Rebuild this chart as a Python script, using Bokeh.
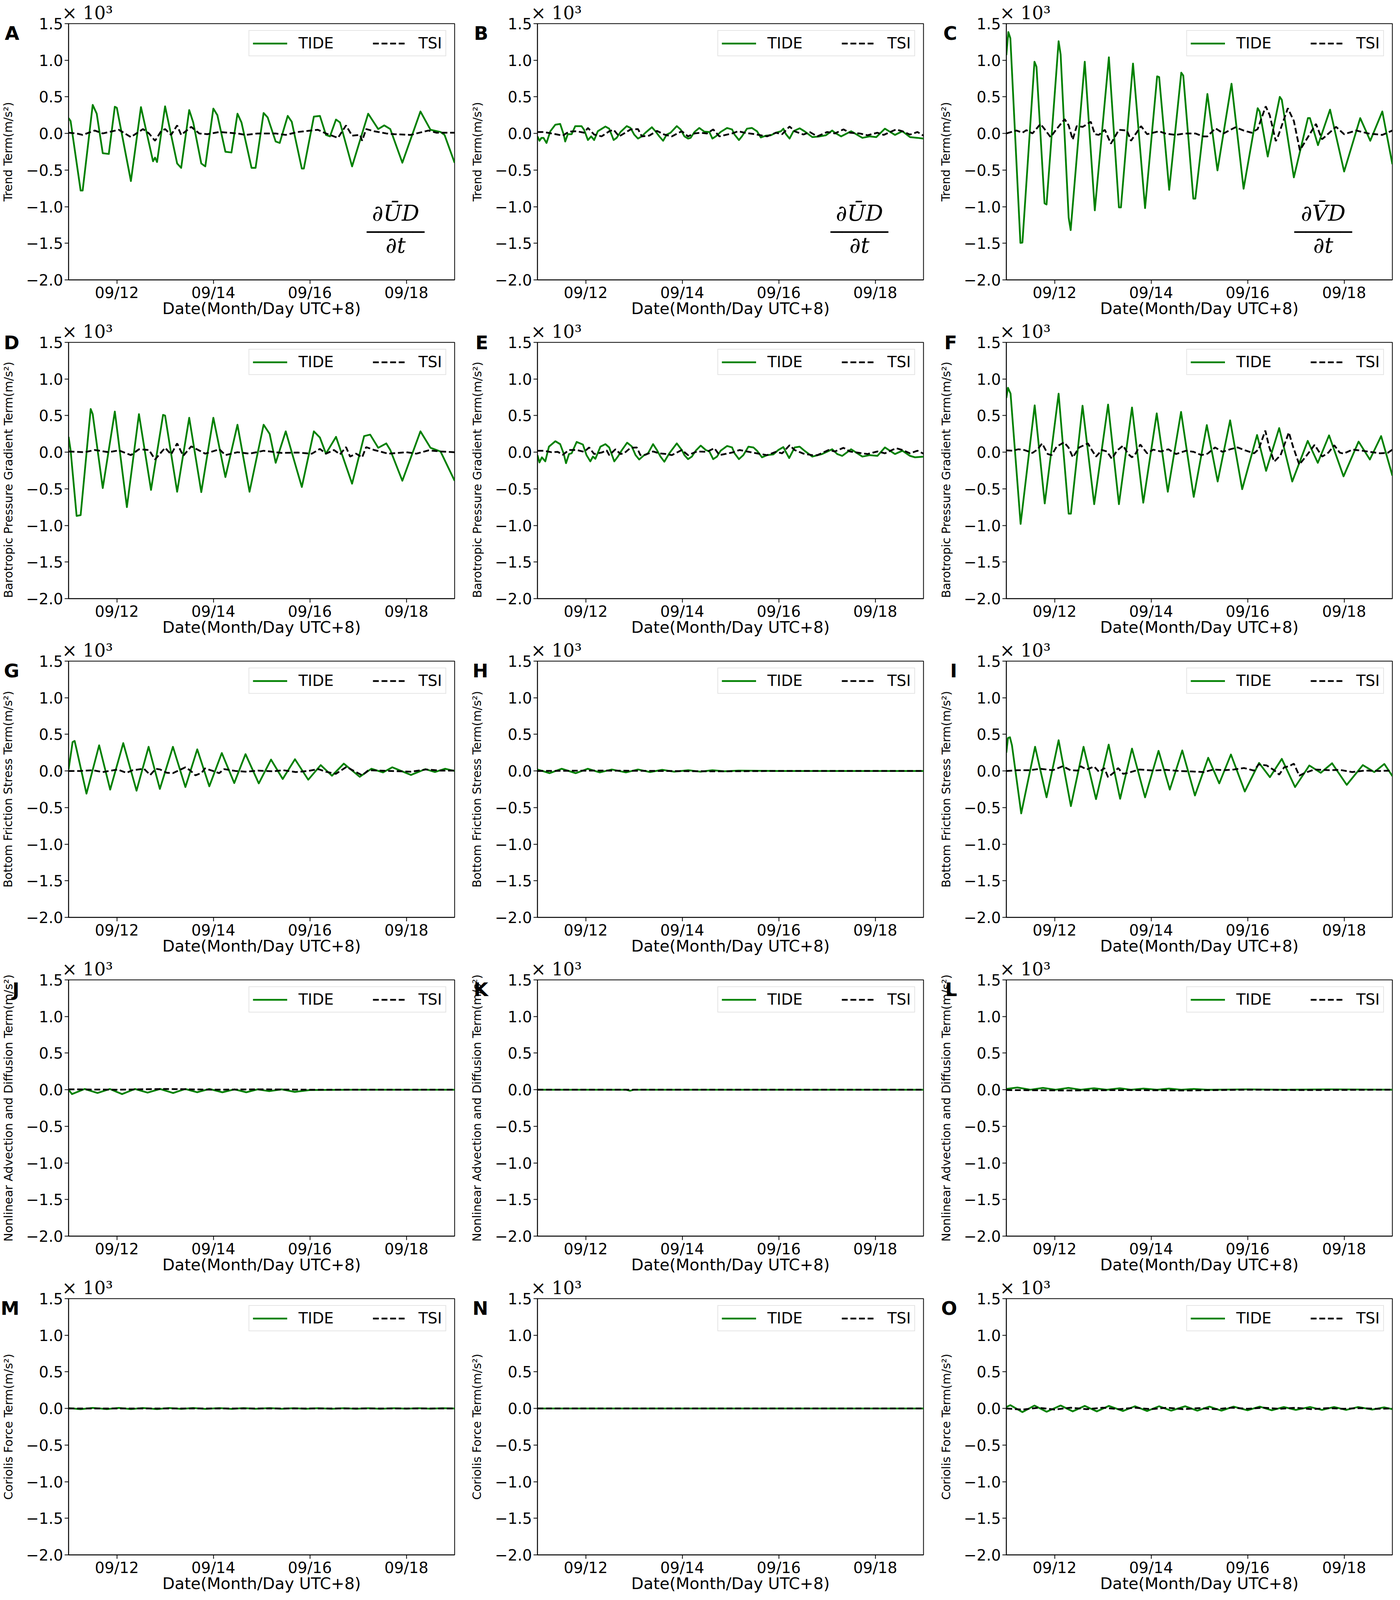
from bokeh.plotting import figure
from bokeh.layouts import column, row
from bokeh.models import (Range1d, FixedTicker, CustomJSTickFormatter, Label,
                          Legend, LegendItem, LinearAxis)
from bokeh.embed import file_html
from bokeh.resources import INLINE

# ---------------- data (hours since 09/11 00:00 UTC+8, values x10^3 m/s^2) -------------
x_tick_hours = [24, 72, 120, 168]
x_tick_labels = ["09/12", "09/14", "09/16", "09/18"]
y_ticks = [-2.0, -1.5, -1.0, -0.5, 0.0, 0.5, 1.0, 1.5]

row_ylabels = [
    "Trend Term(m/s\u00b2)",
    "Barotropic Pressure Gradient Term(m/s\u00b2)",
    "Bottom Friction Stress Term(m/s\u00b2)",
    "Nonlinear Advection and Diffusion Term(m/s\u00b2)",
    "Coriolis Force Term(m/s\u00b2)",
]
panel_letters = ["A", "B", "C", "D", "E", "F", "G", "H", "I", "J", "K", "L", "M", "N", "O"]
series_names = ["TIDE", "TSI"]
multiplier_text = "\u00d7 10\u00b3"
formula_num = {"A": "\u2202\u016aD", "B": "\u2202\u016aD", "C": "\u2202V\u0304D"}
formula_den = "\u2202t"

A_tide_h = [0, 1, 6, 7, 12, 14, 17, 20, 23, 24, 31, 36, 42, 43, 44, 48, 54, 56, 60, 62, 66, 68, 72, 74, 78, 81, 84, 86, 91, 93, 97, 99, 103, 105, 109, 111, 116, 117, 122, 125, 128, 130, 133, 135, 141, 149, 154, 157, 160, 166, 175, 180, 185, 187, 192]
A_tide_v = [0.21, 0.17, -0.78, -0.78, 0.39, 0.27, -0.27, -0.28, 0.365, 0.35, -0.65, 0.36, -0.38, -0.33, -0.39, 0.37, -0.41, -0.47, 0.32, 0.15, -0.41, -0.45, 0.34, 0.25, -0.25, -0.26, 0.27, 0.15, -0.47, -0.47, 0.28, 0.22, -0.11, -0.13, 0.24, 0.16, -0.48, -0.48, 0.23, 0.24, -0.02, -0.04, 0.19, 0.15, -0.45, 0.27, 0.06, 0.11, 0.06, -0.40, 0.30, 0.05, 0.02, -0.02, -0.40]
A_tsi_h = [0, 4, 7, 13, 17, 25, 31, 37, 40, 43, 46, 48, 51, 54, 56, 61, 65, 69, 75, 84, 88, 94, 103, 108, 114, 124, 128, 134, 138, 141, 145, 146, 148, 152, 158, 162, 170, 179, 183, 192]
A_tsi_v = [0.01, 0.0, -0.02, 0.04, 0.0, 0.05, -0.05, 0.06, 0.0, -0.10, 0.03, 0.06, -0.02, 0.11, -0.02, 0.09, 0.0, -0.01, 0.02, 0.0, -0.02, 0.0, 0.0, -0.02, 0.02, 0.05, 0.0, -0.06, 0.11, -0.03, -0.02, -0.10, 0.06, 0.03, 0.0, -0.01, -0.02, 0.04, 0.01, 0.01]

B_tide_h = [0, 1, 2, 3, 4.5, 6.4, 8.9, 11.3, 13, 13.8, 15.1, 17, 18.8, 21.9, 23.2, 25.1, 26.7, 28.2, 30, 33.8, 35.7, 37.9, 39.4, 41.3, 44.4, 46.3, 48.1, 50, 51.9, 53.7, 56.9, 58.7, 60.6, 62.5, 64.3, 66.2, 69.3, 71.2, 73.1, 74.9, 76.2, 78.1, 80.5, 83, 85.5, 87, 88.7, 91.1, 94.3, 96.8, 98, 100.2, 101.7, 104.2, 106.7, 109.2, 111.1, 113.6, 116.1, 118.6, 121.1, 122.3, 123.6, 125.4, 127.3, 130.4, 132.8, 136.7, 140.4, 143.5, 146.6, 147.9, 151, 156, 161.6, 165.3, 168.5, 172.8, 177.8, 181.5, 185.3, 189, 192]
B_tide_v = [-0.04, -0.10, -0.06, -0.06, -0.13, 0.03, 0.12, 0.13, -0.01, -0.11, -0.01, -0.01, 0.10, 0.10, 0.05, -0.09, -0.04, -0.09, 0.03, 0.095, 0.065, -0.09, -0.06, 0.02, 0.10, 0.075, -0.015, -0.07, -0.04, 0.01, 0.085, 0.03, -0.04, -0.10, -0.015, 0.01, 0.10, 0.055, -0.04, -0.07, -0.06, 0.02, 0.075, 0.025, 0.02, -0.07, -0.04, 0.02, 0.075, 0.055, -0.015, -0.09, -0.04, 0.065, 0.075, 0.03, -0.055, -0.03, -0.025, 0.01, 0.03, 0.065, -0.01, -0.07, 0.03, 0.07, 0.03, -0.05, -0.04, -0.025, 0.04, 0.01, -0.04, 0.03, -0.06, -0.04, -0.05, 0.065, -0.02, 0.03, -0.05, -0.06, -0.07]
B_tsi_h = [0, 3, 7, 10, 12.6, 15.7, 19.5, 23.2, 25.1, 28.2, 31.9, 35.7, 37.9, 40.6, 43.1, 46.3, 50, 51.9, 55.6, 59.4, 63.1, 66.8, 71.8, 74.9, 78.1, 81.2, 84.3, 87.4, 90.5, 96.8, 99.9, 103, 108, 114.2, 118.6, 121.7, 125.4, 127.9, 132.3, 135.4, 139.2, 144.1, 147.9, 152.2, 155.4, 160.3, 164.1, 169.1, 172.2, 178.4, 181.5, 185.3, 189, 192]
B_tsi_v = [0.02, 0.02, 0.0, -0.015, -0.03, 0.025, 0.03, 0.01, 0.075, -0.015, -0.04, 0.03, 0.05, -0.04, 0.0, 0.055, 0.06, -0.04, -0.03, 0.035, -0.015, -0.04, 0.03, -0.04, 0.0, 0.01, 0.0, 0.055, -0.04, 0.0, 0.03, 0.01, -0.01, -0.04, 0.01, -0.01, 0.095, 0.03, -0.015, 0.02, -0.04, 0.02, 0.0, 0.055, 0.01, 0.0, -0.025, 0.01, -0.02, 0.055, 0.03, -0.015, 0.02, -0.03]

C_tide_h = [0, 1, 2, 7, 8, 14, 15, 19, 20, 26, 27, 31, 32, 39, 44, 51, 56, 57, 63, 69, 75, 76, 81, 87, 88, 93, 94, 100, 105, 112, 118, 125, 126, 130, 136, 137, 143, 150, 151, 155, 161, 168, 176, 181, 187, 192]
C_tide_v = [1.07, 1.385, 1.30, -1.495, -1.49, 0.98, 0.91, -0.955, -0.97, 1.26, 1.08, -1.15, -1.32, 0.98, -1.05, 1.04, -1.01, -1.01, 0.955, -1.02, 0.78, 0.77, -0.77, 0.83, 0.79, -0.89, -0.89, 0.54, -0.505, 0.68, -0.755, 0.345, 0.30, -0.315, 0.50, 0.46, -0.60, 0.21, 0.21, -0.16, 0.325, -0.52, 0.21, -0.10, 0.30, -0.42]
C_tsi_h = [0, 5, 8, 10, 13, 17, 19, 22, 25, 29, 31, 33, 35, 38, 42, 44, 46, 49, 52, 56, 60, 62, 67, 70, 76, 79, 84, 89, 94, 98, 100, 104, 108, 114, 118, 122, 125, 129, 131, 134, 135, 140, 143, 146, 150, 154, 157, 164, 168, 174, 180, 187, 192]
C_tsi_v = [0.0, 0.04, 0.01, 0.045, 0.0, 0.13, 0.06, -0.05, 0.06, 0.195, 0.11, -0.085, 0.10, 0.09, 0.16, -0.01, -0.02, 0.05, -0.14, 0.05, 0.04, -0.10, 0.10, -0.01, 0.03, 0.0, -0.02, 0.0, 0.0, -0.04, -0.04, 0.07, 0.0, 0.085, 0.04, 0.01, 0.06, 0.37, 0.25, -0.105, -0.05, 0.345, 0.17, -0.23, -0.05, 0.13, -0.08, 0.09, -0.01, 0.04, 0.0, -0.02, 0.04]

D_tide_h = [0, 1, 4, 6, 11, 12, 17, 23, 29, 35, 41, 47, 48, 54, 60, 66, 72, 78, 84, 90, 97, 100, 103, 108, 116, 122, 125, 128, 133, 141, 147, 150, 154, 158, 160, 166, 175, 180, 185, 192]
D_tide_v = [0.21, 0.03, -0.87, -0.86, 0.59, 0.52, -0.49, 0.555, -0.75, 0.52, -0.515, 0.51, 0.50, -0.54, 0.47, -0.545, 0.47, -0.34, 0.375, -0.54, 0.375, 0.25, -0.145, 0.285, -0.475, 0.285, 0.2, -0.02, 0.21, -0.43, 0.22, 0.24, 0.06, 0.12, 0.03, -0.39, 0.285, 0.06, 0.01, -0.39]
D_tsi_h = [0, 8, 13, 20, 25, 31, 35, 40, 43, 48, 51, 54, 57, 61, 68, 75, 78, 84, 90, 97, 106, 114, 121, 125, 128, 132, 135, 138, 140, 143, 146, 148, 152, 159, 168, 173, 179, 185, 192]
D_tsi_v = [0.01, 0.0, 0.03, 0.0, 0.025, -0.04, 0.04, 0.03, -0.10, 0.06, -0.03, 0.12, -0.05, 0.08, -0.02, 0.04, -0.04, 0.0, -0.02, 0.02, -0.01, -0.005, -0.02, 0.045, -0.02, 0.03, -0.03, 0.07, -0.06, -0.02, -0.07, 0.07, 0.03, -0.02, 0.0, -0.02, 0.025, 0.01, 0.0]

E_tide_h = [0, 1, 2.2, 3.9, 5.7, 8.9, 11.3, 13, 14.2, 15.7, 17, 19.5, 22.6, 24.4, 26.3, 27.6, 28.8, 31.3, 33.8, 35.7, 38.2, 40, 41.9, 44.6, 46.9, 48.8, 50.6, 53.1, 55, 57.5, 59.4, 61.2, 63.1, 65.6, 69.3, 71.8, 73.1, 74.9, 76.8, 78.7, 81.2, 83.7, 85.5, 87.4, 89.3, 91.1, 94.3, 96.8, 98, 100.2, 102.4, 104.9, 107.4, 109.2, 111.7, 114.2, 117.3, 119.8, 122.3, 123.6, 125.2, 127.9, 130.4, 132.8, 136.7, 141.6, 146.6, 149.1, 151.6, 156, 161.6, 165.3, 169.1, 172.8, 177.8, 181.5, 185.3, 187.8, 192]
E_tide_v = [-0.04, -0.14, -0.07, -0.125, 0.075, 0.15, 0.11, -0.015, -0.15, -0.025, -0.015, 0.14, 0.105, -0.04, -0.125, -0.06, -0.09, 0.075, 0.11, 0.065, -0.125, -0.06, 0.025, 0.13, 0.08, -0.04, -0.10, -0.04, -0.015, 0.11, 0.03, -0.06, -0.13, -0.015, 0.12, 0.03, -0.04, -0.095, -0.06, 0.02, 0.09, 0.03, 0.01, -0.095, -0.06, 0.02, 0.085, 0.065, -0.015, -0.095, -0.04, 0.075, 0.065, 0.02, -0.07, -0.04, -0.03, 0.03, 0.07, 0.0, -0.08, 0.065, 0.075, 0.02, -0.06, -0.025, 0.04, -0.025, -0.05, 0.04, -0.06, -0.04, -0.05, 0.065, -0.025, 0.02, -0.05, -0.07, -0.06]
E_tsi_h = [0, 3.2, 7, 10.1, 12.6, 15.7, 19.5, 23.2, 25.7, 28.2, 31.9, 34.4, 35.7, 38.8, 41.3, 43.1, 46.3, 49.4, 51.2, 53.7, 57.5, 60.6, 64.3, 66.8, 71.8, 74.9, 79.3, 84.3, 88, 90.5, 96.8, 100.5, 104.2, 108, 114.2, 118.6, 121.7, 125.4, 127.9, 132.3, 136.7, 139.2, 144.8, 147.9, 152.2, 155.4, 160.3, 164.1, 169.1, 172.8, 178.4, 181.5, 185.3, 189, 192]
E_tsi_v = [0.02, 0.02, 0.0, 0.005, -0.035, 0.03, 0.03, 0.005, 0.065, -0.025, -0.005, 0.025, -0.04, 0.04, -0.025, -0.015, 0.06, 0.065, -0.04, -0.035, 0.01, -0.015, -0.025, -0.04, 0.03, -0.04, 0.01, 0.005, 0.055, -0.04, -0.005, 0.03, 0.01, -0.01, -0.04, 0.005, -0.015, 0.095, 0.03, -0.02, -0.04, -0.04, 0.03, 0.01, 0.06, 0.01, -0.01, -0.025, 0.01, -0.015, 0.055, 0.03, -0.015, 0.02, -0.02]

F_tide_h = [0, 0.8, 2.1, 7.1, 14.1, 19.1, 26, 31, 32.1, 37.9, 43.7, 50.6, 56, 62.5, 68.1, 74.8, 80.3, 86.9, 93.2, 99.7, 105.1, 111.3, 117.3, 124.7, 129.2, 135.7, 142.2, 149.9, 154.9, 160.5, 167.7, 175.2, 180.8, 186.4, 192]
F_tide_v = [0.74, 0.88, 0.80, -0.98, 0.64, -0.70, 0.80, -0.84, -0.84, 0.635, -0.71, 0.65, -0.71, 0.61, -0.69, 0.53, -0.54, 0.55, -0.61, 0.37, -0.40, 0.435, -0.505, 0.235, -0.255, 0.33, -0.40, 0.155, -0.145, 0.23, -0.33, 0.145, -0.10, 0.22, -0.32]
F_tsi_h = [0, 3, 6, 9, 13, 15.6, 17.8, 20.6, 22.5, 25, 28.7, 30.9, 33.1, 36.2, 40.6, 42.5, 44.6, 47.5, 50, 52.5, 55, 58.1, 60.6, 62.5, 64.4, 66.6, 70, 73.1, 76.8, 80.6, 84.4, 89.4, 93.2, 97, 100.1, 103.8, 107.5, 111.3, 115, 118.8, 123.2, 125.5, 128.8, 130.7, 133.2, 136.4, 140.5, 142.6, 145.7, 149.5, 153.3, 157.1, 160.2, 163.1, 165.8, 167.7, 172.1, 177.1, 180.8, 185.8, 189.6, 192]
F_tsi_v = [0.025, 0.02, 0.04, 0.03, -0.01, 0.04, 0.12, -0.025, -0.04, 0.075, 0.135, 0.065, -0.07, 0.065, 0.12, 0.03, -0.06, 0.03, 0.01, -0.09, 0.02, 0.09, -0.025, -0.07, -0.015, 0.105, -0.015, 0.035, 0.01, 0.04, -0.025, 0.02, 0.005, -0.04, -0.02, 0.065, 0.005, 0.04, 0.065, 0.025, -0.015, 0.04, 0.295, 0.075, -0.13, -0.04, 0.27, 0.075, -0.17, -0.04, 0.10, -0.06, -0.005, 0.095, -0.005, -0.02, 0.035, 0.02, 0.005, -0.015, -0.01, 0.035]

G_tide_h = [0, 2, 3, 3.9, 8.9, 15.2, 20.7, 27.2, 33.8, 39.8, 45.4, 51.9, 58.1, 64, 70, 76.2, 82.4, 88, 94.6, 100.7, 106.5, 112.6, 119.2, 125.4, 131, 136.9, 144.8, 150.6, 156.4, 161, 170.3, 177.4, 182.2, 187.2, 192]
G_tide_v = [0.02, 0.395, 0.41, 0.305, -0.31, 0.35, -0.255, 0.38, -0.27, 0.33, -0.245, 0.33, -0.22, 0.295, -0.21, 0.245, -0.165, 0.23, -0.17, 0.155, -0.11, 0.16, -0.12, 0.08, -0.065, 0.10, -0.08, 0.03, -0.02, 0.05, -0.055, 0.025, -0.015, 0.03, 0.0]
G_tsi_h = [0, 5.7, 12, 17, 24.4, 28.8, 31.9, 37.5, 40.6, 43.4, 45.6, 48.8, 51.9, 58.1, 60.6, 63.1, 66.2, 67.8, 71.8, 74.9, 77.4, 83, 88, 94.3, 101.7, 106.7, 113, 119.2, 124.2, 127.9, 132.9, 138.2, 141.6, 146, 149.1, 154.1, 160.3, 170.3, 177.8, 185.3, 192]
G_tsi_v = [0.0, 0.0, 0.01, -0.015, 0.02, -0.025, 0.01, 0.03, -0.055, 0.03, 0.02, -0.025, -0.03, 0.05, 0.005, -0.06, -0.025, 0.035, 0.0, -0.03, 0.025, 0.0, -0.01, 0.005, -0.005, 0.01, -0.015, 0.0, 0.025, -0.01, -0.04, 0.055, 0.005, -0.06, 0.01, 0.005, 0.0, -0.01, 0.02, 0.005, 0.005]

H_tide_h = [0, 6, 12, 19, 25, 31, 37, 44, 50, 56, 62, 68, 75, 81, 87, 93, 100, 120, 140, 160, 192]
H_tide_v = [0.02, -0.03, 0.03, -0.03, 0.03, -0.02, 0.02, -0.02, 0.02, -0.015, 0.015, -0.01, 0.01, -0.01, 0.01, -0.005, 0.005, 0.0, 0.0, 0.0, 0.0]
H_tsi_h = [0, 30, 60, 90, 120, 150, 192]
H_tsi_v = [0.0, 0.005, 0.0, -0.005, 0.0, 0.0, 0.0]

I_tide_h = [0, 0.8, 1.8, 2.8, 7.4, 14.3, 20, 26, 32.1, 38.4, 44.6, 50.9, 56.6, 62.5, 69, 75.7, 81.3, 87.5, 93.8, 100.4, 105.9, 111.7, 118.6, 125.7, 131.1, 137, 143.6, 150.7, 156.4, 162, 169.3, 177.3, 183, 188, 192]
I_tide_v = [0.25, 0.45, 0.46, 0.35, -0.58, 0.33, -0.36, 0.42, -0.48, 0.33, -0.385, 0.36, -0.38, 0.305, -0.36, 0.275, -0.255, 0.28, -0.335, 0.18, -0.17, 0.225, -0.28, 0.11, -0.085, 0.165, -0.22, 0.075, -0.025, 0.105, -0.19, 0.08, -0.015, 0.095, -0.07]
I_tsi_h = [0, 5.6, 11.8, 16.8, 23.1, 28.1, 31.9, 35.6, 36.9, 40, 43.7, 46.2, 48.7, 50.6, 53.8, 55.6, 58.1, 60.6, 66.3, 73.1, 79.4, 85.7, 90.7, 98.2, 103.2, 108.2, 113.2, 118.2, 123.2, 125.5, 129.5, 133.2, 135.7, 138.2, 140.7, 143, 145.7, 148.2, 153.3, 160.8, 165.8, 172, 178.3, 185.8, 192]
I_tsi_v = [0.0, 0.01, 0.01, 0.03, 0.01, 0.065, 0.01, 0.005, 0.065, 0.02, 0.06, -0.015, 0.04, -0.085, -0.015, 0.04, -0.04, -0.025, 0.02, 0.005, 0.015, 0.0, -0.005, -0.015, 0.02, 0.01, 0.02, 0.04, 0.005, 0.09, 0.075, 0.01, -0.05, 0.05, 0.065, 0.10, -0.065, -0.03, 0.02, 0.01, 0.015, -0.015, 0.005, 0.0, 0.005]

J_tide_h = [0, 1.7, 8, 14.4, 20.5, 26.6, 33, 39.3, 45.5, 52, 58, 63.9, 70, 76.5, 82.5, 88.4, 94, 99.8, 106, 112.5, 120, 140, 160, 192]
J_tide_v = [0.0, -0.06, 0.01, -0.045, 0.01, -0.06, 0.01, -0.04, 0.01, -0.045, 0.01, -0.035, 0.01, -0.035, 0.005, -0.035, 0.005, -0.02, 0.005, -0.03, -0.005, 0.0, 0.0, 0.0]
J_tsi_h = [0, 24, 48, 72, 96, 120, 144, 168, 192]
J_tsi_v = [0.005, 0.0, 0.01, 0.0, 0.005, 0.0, 0.0, 0.0, 0.0]

K_tide_h = [0, 20, 44, 46, 48, 100, 192]
K_tide_v = [0.0, 0.0, 0.0, -0.015, 0.0, 0.0, 0.0]
K_tsi_h = [0, 96, 192]
K_tsi_v = [0.0, 0.0, 0.0]

L_tide_h = [0, 5.5, 12, 18.2, 24.5, 30.9, 37, 43.6, 50, 56.4, 62, 68.2, 75, 80.9, 87, 93.2, 100, 120, 140, 160, 192]
L_tide_v = [0.01, 0.03, 0.0, 0.025, 0.0, 0.025, 0.0, 0.02, 0.0, 0.02, 0.0, 0.015, 0.0, 0.015, 0.0, 0.01, 0.0, 0.005, 0.0, 0.005, 0.0]
L_tsi_h = [0, 30, 60, 90, 120, 150, 192]
L_tsi_v = [-0.005, -0.01, -0.005, -0.01, 0.0, -0.005, 0.0]

M_tide_h = [0, 6, 12, 19, 25, 31, 37, 44, 50, 56, 62, 68, 75, 81, 87, 93, 100, 106, 112, 118, 124, 131, 137, 143, 149, 155, 162, 168, 174, 180, 186, 192]
M_tide_v = [0.005, -0.01, 0.008, -0.008, 0.008, -0.008, 0.006, -0.008, 0.006, -0.006, 0.006, -0.006, 0.005, -0.006, 0.005, -0.005, 0.005, -0.005, 0.004, -0.004, 0.004, -0.004, 0.004, -0.004, 0.004, -0.004, 0.003, -0.003, 0.003, -0.003, 0.003, 0.0]
M_tsi_h = [0, 48, 96, 144, 192]
M_tsi_v = [0.0, 0.0, 0.0, 0.0, 0.0]

N_tide_h = [0, 96, 192]
N_tide_v = [0.0, 0.0, 0.0]
N_tsi_h = [0, 96, 192]
N_tsi_v = [0.0, 0.0, 0.0]

O_tide_h = [0, 2, 8, 14, 20, 27, 33, 39, 45, 51, 58, 64, 70, 76, 82, 89, 95, 101, 107, 113, 120, 126, 132, 138, 144, 151, 157, 163, 169, 175, 182, 188, 192]
O_tide_v = [0.02, 0.045, -0.05, 0.04, -0.045, 0.04, -0.04, 0.035, -0.04, 0.035, -0.035, 0.03, -0.035, 0.03, -0.03, 0.03, -0.03, 0.025, -0.03, 0.025, -0.025, 0.025, -0.025, 0.02, -0.02, 0.02, -0.02, 0.02, -0.02, 0.02, -0.015, 0.015, -0.01]
O_tsi_h = [0, 8, 16, 24, 32, 40, 48, 56, 64, 72, 80, 88, 96, 104, 112, 120, 128, 136, 144, 152, 160, 168, 176, 184, 192]
O_tsi_v = [0.0, -0.015, 0.01, -0.015, 0.01, -0.01, 0.01, -0.01, 0.01, -0.01, 0.01, -0.01, 0.005, -0.01, 0.01, -0.005, 0.01, -0.005, 0.01, -0.01, 0.005, -0.005, 0.005, -0.005, 0.0]

# ---------------- table of panels built from the arrays above ----------------
panel_data = {
    "A": (A_tide_h, A_tide_v, A_tsi_h, A_tsi_v), "B": (B_tide_h, B_tide_v, B_tsi_h, B_tsi_v),
    "C": (C_tide_h, C_tide_v, C_tsi_h, C_tsi_v), "D": (D_tide_h, D_tide_v, D_tsi_h, D_tsi_v),
    "E": (E_tide_h, E_tide_v, E_tsi_h, E_tsi_v), "F": (F_tide_h, F_tide_v, F_tsi_h, F_tsi_v),
    "G": (G_tide_h, G_tide_v, G_tsi_h, G_tsi_v), "H": (H_tide_h, H_tide_v, H_tsi_h, H_tsi_v),
    "I": (I_tide_h, I_tide_v, I_tsi_h, I_tsi_v), "J": (J_tide_h, J_tide_v, J_tsi_h, J_tsi_v),
    "K": (K_tide_h, K_tide_v, K_tsi_h, K_tsi_v), "L": (L_tide_h, L_tide_v, L_tsi_h, L_tsi_v),
    "M": (M_tide_h, M_tide_v, M_tsi_h, M_tsi_v), "N": (N_tide_h, N_tide_v, N_tsi_h, N_tsi_v),
    "O": (O_tide_h, O_tide_v, O_tsi_h, O_tsi_v),
}

# ---------------- styling / layout ----------------
GREEN = "#008000"
FIG_H = 816
BORDER_TOP = 60
BORDER_BOTTOM = 100
FRAME_H = FIG_H - BORDER_TOP - BORDER_BOTTOM
col_width = [1200, 1200, 1167]
col_border_left = [171, 171, 172]
col_border_right = [37, 37, 4]
formula_cx = {"A": 837, "B": 824, "C": 811}
letter_y_by_row = [1.37, 1.5, 1.37, 1.37, 1.37]   # vertical place of the panel letter
label_pad_by_row = [0, 5, 0, 0, 0]                # keeps the long row title clear of the letter
MULT_X = 9.4                                      # horizontal place of the x10^3 text
letter_w = {"A": 37, "B": 37, "C": 35, "D": 40, "E": 33, "F": 33, "G": 39, "H": 40,
            "I": 18, "J": 18, "K": 37, "L": 31, "M": 48, "N": 40, "O": 41}

FONT = "DejaVu Sans"
y_fmt = CustomJSTickFormatter(code="return (tick < 0 ? '\\u2212' : '') + Math.abs(tick).toFixed(1);")


def style_axis(ax, size):
    ax.axis_line_width = 2
    ax.major_tick_line_width = 2
    ax.major_tick_out = 10
    ax.major_tick_in = 0
    ax.minor_tick_line_color = None
    ax.major_label_text_font = FONT
    ax.major_label_text_font_size = size
    ax.major_label_text_color = "black"


def make_panel(idx):
    letter = panel_letters[idx]
    r, c = divmod(idx, 3)
    th, tv, sh, sv = panel_data[letter]
    p = figure(width=col_width[c], height=FIG_H,
               x_range=Range1d(0, 192), y_range=Range1d(-2.0, 1.5),
               output_backend="svg", toolbar_location=None,
               min_border_left=col_border_left[c], min_border_right=col_border_right[c],
               min_border_top=BORDER_TOP, min_border_bottom=BORDER_BOTTOM)
    p.background_fill_color = "white"
    p.border_fill_color = "white"
    p.grid.visible = False
    p.outline_line_color = "black"
    p.outline_line_width = 2

    xa = p.xaxis[0]
    style_axis(xa, "39px")
    xa.ticker = FixedTicker(ticks=x_tick_hours)
    xa.major_label_overrides = dict(zip(x_tick_hours, x_tick_labels))
    xa.major_label_standoff = 0
    xa.axis_label = "Date(Month/Day UTC+8)"
    xa.axis_label_text_font = FONT
    xa.axis_label_text_font_size = "41px"
    xa.axis_label_text_font_style = "normal"
    xa.axis_label_text_color = "black"
    xa.axis_label_standoff = -9

    ya = p.yaxis[0]
    style_axis(ya, "39px")
    ya.ticker = FixedTicker(ticks=y_ticks)
    ya.formatter = y_fmt
    ya.major_label_standoff = 4

    # outer left axis: carries the panel letter (as its only tick label) and the row title
    ly = letter_y_by_row[r]
    la = LinearAxis(ticker=FixedTicker(ticks=[ly]),
                    major_label_overrides={ly: letter},
                    axis_line_color=None, major_tick_line_color=None, minor_tick_line_color=None,
                    major_tick_out=0, major_tick_in=0, major_label_standoff=14,
                    major_label_text_font=FONT, major_label_text_font_style="bold",
                    major_label_text_font_size="48px", major_label_text_color="black",
                    axis_label=row_ylabels[r] + "\u00a0" * label_pad_by_row[r],
                    axis_label_standoff=8 - letter_w[letter],
                    axis_label_text_font=FONT, axis_label_text_font_size="30px",
                    axis_label_text_font_style="normal", axis_label_text_color="black")
    p.add_layout(la, "left")

    # top axis: carries the multiplier text
    ma = LinearAxis(ticker=FixedTicker(ticks=[MULT_X]),
                    major_label_overrides={MULT_X: multiplier_text},
                    axis_line_color=None, major_tick_line_color=None, minor_tick_line_color=None,
                    major_tick_out=0, major_tick_in=0, major_label_standoff=1,
                    major_label_text_font="DejaVu Serif", major_label_text_font_size="46px",
                    major_label_text_color="black")
    p.add_layout(ma, "above")

    r_tide = p.line(th, tv, line_color=GREEN, line_width=4.5, line_join="round")
    r_tsi = p.line(sh, sv, line_color="black", line_width=4.5, line_dash="15 7")

    legend = Legend(items=[LegendItem(label=series_names[0], renderers=[r_tide]),
                           LegendItem(label=series_names[1], renderers=[r_tsi])],
                    orientation="horizontal", location=(461, FRAME_H - 18 - 66),
                    label_text_font=FONT, label_text_font_size="39px", label_text_color="black",
                    glyph_width=88, glyph_height=36, label_standoff=29, spacing=100,
                    padding=9, margin=0, border_line_color="#cccccc",
                    border_line_width=2.5, background_fill_alpha=0.8)
    p.add_layout(legend)

    if letter in formula_num:
        cx = formula_cx[letter]
        fy = FRAME_H / 733.0
        p.add_layout(Label(x=cx, y=191 * fy, x_units="screen", y_units="screen",
                           text=formula_num[letter], text_font="DejaVu Serif",
                           text_font_style="italic", text_font_size="56px", text_color="black",
                           text_align="center", text_baseline="alphabetic"))
        p.add_layout(Label(x=cx, y=161 * fy - 22, x_units="screen", y_units="screen",
                           text="\u2500" * 5, text_font=FONT, text_color="black",
                           text_font_size="49px", text_align="center", text_baseline="middle"))
        p.add_layout(Label(x=cx, y=99 * fy, x_units="screen", y_units="screen",
                           text=formula_den, text_font="DejaVu Serif",
                           text_font_style="italic", text_font_size="56px", text_color="black",
                           text_align="center", text_baseline="alphabetic"))
    return p


figs = [make_panel(i) for i in range(15)]
layout = column(*[row(*figs[3 * k:3 * k + 3]) for k in range(5)])

open("out.html", "w").write(file_html(layout, INLINE))
